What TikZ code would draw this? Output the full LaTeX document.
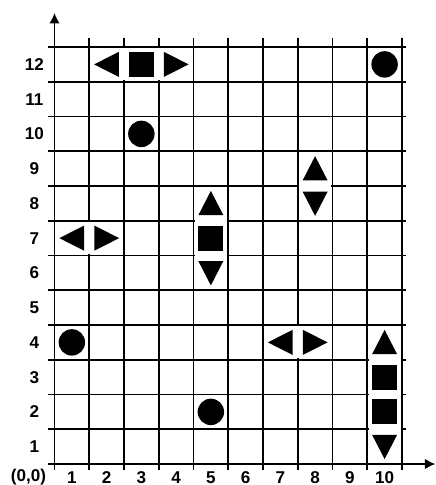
\documentclass[tikz,border=0pt]{standalone}
\usepackage{fontspec}
\setmainfont{Liberation Sans}
\usetikzlibrary{arrows.meta}

\begin{document}
\begin{tikzpicture}[x=1cm,y=1cm,>={Latex[length=3mm,width=3mm]},
  gridline/.style={line width=1.3pt},
  lab/.style={font=\bfseries\fontsize{14}{16}\selectfont,inner sep=1pt},
  backdrop/.style={fill=white}]
\useasboundingbox (-1.568,-0.604) rectangle (10.978,13.353);
% grid and axes
\foreach \i in {1,...,10} \draw[gridline] (\i,-0.17)--(\i,12.27);
\foreach \j in {1,...,12} \draw[gridline] (-0.19,\j)--(10.12,\j);
\draw[gridline,->] (0,-0.17)--(0,12.98);
\draw[gridline,->] (-0.19,0)--(10.96,0);
% labels
\foreach \i in {1,...,10} \node[lab] (x\i) at (\i-0.5,-0.38) {\i};
\foreach \j in {1,...,12} \node[lab] (y\j) at (-0.58,\j-0.5) {\j};
\node[lab] (origin) at (-0.75,-0.37) {(0,0)};
% white strips behind the groups
\fill[backdrop] (1.04,11.04) rectangle (3.96,11.96);
\fill[backdrop] (0.04,6.04) rectangle (1.96,6.96);
\fill[backdrop] (4.04,5.04) rectangle (4.96,7.96);
\fill[backdrop] (7.04,7.04) rectangle (7.96,8.96);
\fill[backdrop] (6.04,3.04) rectangle (7.96,3.96);
\fill[backdrop] (9.04,0.04) rectangle (9.96,3.96);
% triangles
\foreach \p in {(1.5,11.5),(0.5,6.5),(6.5,3.5)}
  \fill[shift={\p}] (-0.36,0)--(0.35,0.36)--(0.35,-0.36)--cycle;
\foreach \p in {(3.5,11.5),(1.5,6.5),(7.5,3.5)}
  \fill[shift={\p}] (0.36,0)--(-0.35,0.36)--(-0.35,-0.36)--cycle;
\foreach \p in {(4.5,7.5),(7.5,8.5),(9.5,3.5)}
  \fill[shift={\p}] (0,0.36)--(-0.36,-0.34)--(0.36,-0.34)--cycle;
\foreach \p in {(4.5,5.5),(7.5,7.5),(9.5,0.5)}
  \fill[shift={\p}] (0,-0.36)--(-0.36,0.34)--(0.36,0.34)--cycle;
% squares
\foreach \p in {(2.5,11.5),(4.5,6.5),(9.5,2.5),(9.5,1.5)}
  \fill[shift={\p}] (-0.36,-0.36) rectangle (0.36,0.36);
% dots
\foreach \p in {(2.5,9.5),(9.5,11.5),(0.5,3.5),(4.5,1.5)}
  \fill \p circle (0.38);
\end{tikzpicture}
\end{document}
